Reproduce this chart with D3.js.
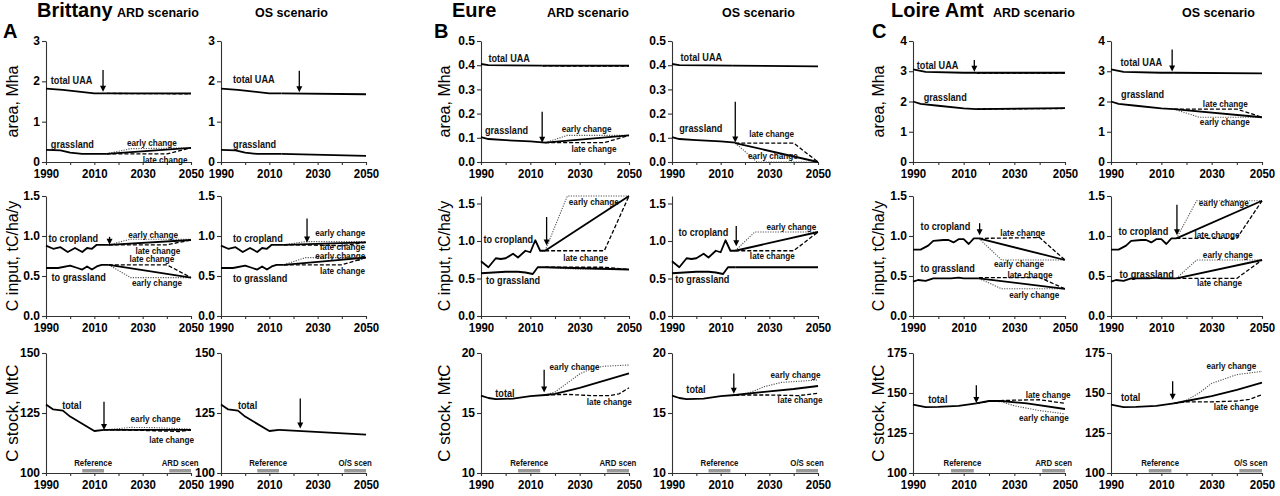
<!DOCTYPE html>
<html>
<head>
<meta charset="UTF-8">
<script src="https://d3js.org/d3.v7.min.js"></script>
<style>
  body { margin: 0; background: #fff; }
  svg text { font-family: "Liberation Sans", Arial, sans-serif; }
</style>
</head>
<body>
<div id="chart"></div>
<script>
// ---------- text ----------
var regionNames = ["Brittany", "Eure", "Loire Amt"];
var panelLetters = ["A", "B", "C"];
var scenarioNames = ["ARD scenario", "OS scenario"];
var scenBarLabels = ["ARD scen", "O/S scen"];
var yTitles = ["area, Mha", "C input, tC/ha/y", "C stock, MtC"];

// ---------- Brittany ----------
var britUaaHist = [[1990, 1.82], [1997, 1.79], [2010, 1.70], [2015, 1.70]];
var britGrassHist = [[1990, 0.30], [1996, 0.29], [2000, 0.23], [2005, 0.20], [2015, 0.20]];
var britCropInHist = [[1990, 0.88], [1993, 0.84], [1996, 0.86], [1999, 0.80], [2002, 0.85], [2005, 0.80], [2007, 0.85], [2009, 0.84], [2011, 0.89], [2016, 0.89]];
var britGrassInHist = [[1990, 0.60], [1995, 0.60], [2000, 0.63], [2003, 0.60], [2005, 0.58], [2007, 0.62], [2009, 0.58], [2011, 0.62], [2013, 0.64], [2016, 0.64]];
var britStockHist = [[1990, 128.5], [1993, 126.5], [1997, 126], [2000, 123.5], [2010, 117.5], [2014, 118]];

var britArdUaa = [[2015, 1.70], [2050, 1.70]];
var britArdUaaAlt = [[2015, 1.70], [2050, 1.69]];
var britArdGrass = [[2015, 0.20], [2050, 0.35]];
var britArdGrassEarly = [[2015, 0.20], [2025, 0.33], [2050, 0.35]];
var britArdGrassLate = [[2015, 0.20], [2040, 0.20], [2050, 0.35]];
var britArdCropIn = [[2016, 0.89], [2050, 0.95]];
var britArdCropInEarly = [[2016, 0.89], [2025, 0.96], [2050, 0.96]];
var britArdCropInLate = [[2016, 0.89], [2040, 0.89], [2050, 0.95]];
var britArdGrassIn = [[2016, 0.64], [2050, 0.48]];
var britArdGrassInEarly = [[2016, 0.64], [2025, 0.48], [2050, 0.48]];
var britArdGrassInLate = [[2016, 0.64], [2040, 0.64], [2050, 0.48]];
var britArdStock = [[2014, 118], [2050, 118]];
var britArdStockEarly = [[2014, 118], [2020, 118.5], [2025, 119], [2035, 118.9], [2050, 118.3]];
var britArdStockLate = [[2014, 118], [2025, 117.9], [2035, 117.6], [2045, 117.3], [2050, 117.9]];

var britOsUaa = [[2015, 1.70], [2050, 1.68]];
var britOsGrass = [[2015, 0.20], [2050, 0.15]];
var britOsCropIn = [[2016, 0.89], [2050, 0.92]];
var britOsCropInEarly = [[2016, 0.89], [2025, 0.93], [2050, 0.93]];
var britOsCropInLate = [[2016, 0.89], [2040, 0.88], [2050, 0.92]];
var britOsGrassIn = [[2016, 0.64], [2050, 0.73]];
var britOsGrassInEarly = [[2016, 0.64], [2025, 0.73], [2050, 0.73]];
var britOsGrassInLate = [[2016, 0.64], [2040, 0.64], [2050, 0.73]];
var britOsStock = [[2014, 118], [2050, 116]];

// ---------- Eure ----------
var eureUaaHist = [[1990, 0.405], [1993, 0.400], [2015, 0.398]];
var eureGrassHist = [[1990, 0.103], [1993, 0.095], [2000, 0.090], [2010, 0.085], [2016, 0.080]];
var eureCropInHist = [[1990, 0.73], [1993, 0.65], [1996, 0.77], [1998, 0.76], [2000, 0.77], [2003, 0.83], [2005, 0.78], [2008, 0.87], [2010, 0.85], [2012, 1.01], [2014, 0.87], [2016, 0.87]];
var eureGrassInHist = [[1990, 0.57], [1995, 0.58], [2000, 0.59], [2005, 0.59], [2008, 0.58], [2011, 0.56], [2013, 0.65], [2016, 0.65]];
var eureStockHist = [[1990, 16.45], [1993, 16.25], [1996, 16.15], [2003, 16.2], [2010, 16.4], [2016, 16.5]];

var eureArdUaa = [[2015, 0.398], [2050, 0.398]];
var eureArdUaaAlt = [[2015, 0.397], [2050, 0.396]];
var eureArdGrass = [[2016, 0.080], [2050, 0.110]];
var eureArdGrassEarly = [[2016, 0.080], [2025, 0.110], [2050, 0.110]];
var eureArdGrassLate = [[2016, 0.080], [2040, 0.080], [2050, 0.110]];
var eureArdCropIn = [[2016, 0.87], [2050, 1.60]];
var eureArdCropInEarly = [[2016, 0.87], [2025, 1.60], [2050, 1.60]];
var eureArdCropInLate = [[2016, 0.87], [2040, 0.87], [2050, 1.60]];
var eureArdGrassIn = [[2016, 0.65], [2050, 0.62]];
var eureArdGrassInEarly = [[2016, 0.65], [2025, 0.63], [2050, 0.62]];
var eureArdGrassInLate = [[2016, 0.65], [2040, 0.65], [2050, 0.62]];
var eureArdStock = [[2016, 16.5], [2020, 16.6], [2030, 17.1], [2040, 17.7], [2050, 18.3]];
var eureArdStockEarly = [[2016, 16.5], [2020, 16.75], [2025, 17.5], [2030, 18.25], [2035, 18.7], [2040, 18.9], [2050, 19.0]];
var eureArdStockLate = [[2016, 16.5], [2025, 16.55], [2035, 16.45], [2042, 16.45], [2046, 16.6], [2050, 17.1]];

var eureOsUaa = [[2015, 0.398], [2050, 0.395]];
var eureOsGrass = [[2016, 0.078], [2050, 0.0]];
var eureOsGrassEarly = [[2016, 0.078], [2025, 0.0], [2050, 0.0]];
var eureOsGrassLate = [[2016, 0.078], [2040, 0.078], [2050, 0.0]];
var eureOsCropIn = [[2016, 0.87], [2050, 1.12]];
var eureOsCropInEarly = [[2016, 0.87], [2024, 1.12], [2050, 1.12]];
var eureOsCropInLate = [[2016, 0.87], [2040, 0.87], [2050, 1.12]];
var eureOsGrassIn = [[2016, 0.65], [2050, 0.65]];
var eureOsStock = [[2016, 16.5], [2030, 16.8], [2040, 17.0], [2050, 17.25]];
var eureOsStockEarly = [[2016, 16.5], [2022, 16.7], [2028, 17.2], [2035, 17.55], [2050, 17.75]];
var eureOsStockLate = [[2016, 16.5], [2030, 16.5], [2042, 16.45], [2050, 16.65]];

// ---------- Loire Amt ----------
var loireUaaHist = [[1990, 3.06], [1995, 2.98], [2010, 2.95], [2015, 2.95]];
var loireGrassHist = [[1990, 2.00], [1993, 1.92], [2000, 1.86], [2010, 1.77], [2015, 1.75]];
var loireCropInHist = [[1990, 0.83], [1993, 0.83], [1996, 0.88], [1998, 0.94], [2002, 0.95], [2004, 0.95], [2006, 0.92], [2008, 0.96], [2010, 0.96], [2012, 0.90], [2014, 0.97], [2016, 0.97]];
var loireGrassInHist = [[1990, 0.43], [1992, 0.45], [1995, 0.44], [1998, 0.47], [2005, 0.47], [2008, 0.48], [2010, 0.47], [2016, 0.47]];
var loireStockHist = [[1990, 142.8], [1995, 141.2], [2000, 141.3], [2008, 142.0], [2015, 143.5]];

var loireArdUaa = [[2015, 2.95], [2050, 2.95]];
var loireArdUaaAlt = [[2015, 2.94], [2050, 2.94]];
var loireArdGrass = [[2015, 1.75], [2050, 1.78]];
var loireArdGrassAlt = [[2015, 1.75], [2050, 1.77]];
var loireArdCropIn = [[2016, 0.97], [2050, 0.70]];
var loireArdCropInEarly = [[2016, 0.97], [2025, 0.70], [2050, 0.70]];
var loireArdCropInLate = [[2016, 0.97], [2040, 0.98], [2050, 0.70]];
var loireArdGrassIn = [[2016, 0.47], [2050, 0.34]];
var loireArdGrassInEarly = [[2016, 0.47], [2025, 0.34], [2050, 0.34]];
var loireArdGrassInLate = [[2016, 0.48], [2040, 0.48], [2050, 0.34]];
var loireArdStock = [[2015, 143.5], [2020, 145], [2025, 145], [2035, 143.5], [2050, 140]];
var loireArdStockEarly = [[2015, 143.5], [2020, 145], [2025, 144.5], [2030, 142], [2040, 139], [2050, 137]];
var loireArdStockLate = [[2015, 143.5], [2020, 145], [2030, 145.5], [2040, 145.8], [2050, 143.5]];

var loireOsUaa = [[2015, 2.95], [2050, 2.93]];
var loireOsGrass = [[2015, 1.75], [2050, 1.48]];
var loireOsGrassEarly = [[2015, 1.75], [2025, 1.48], [2050, 1.48]];
var loireOsGrassLate = [[2015, 1.75], [2040, 1.75], [2050, 1.48]];
var loireOsCropIn = [[2016, 0.97], [2050, 1.44]];
var loireOsCropInEarly = [[2016, 0.97], [2024, 1.44], [2050, 1.44]];
var loireOsCropInLate = [[2016, 0.97], [2040, 0.97], [2050, 1.44]];
var loireOsGrassIn = [[2016, 0.47], [2050, 0.70]];
var loireOsGrassInEarly = [[2016, 0.47], [2024, 0.70], [2050, 0.70]];
var loireOsGrassInLate = [[2016, 0.47], [2040, 0.47], [2050, 0.70]];
var loireOsStock = [[2015, 143.5], [2020, 145], [2030, 148], [2040, 152], [2050, 156.5]];
var loireOsStockEarly = [[2015, 143.5], [2020, 145.5], [2025, 150], [2030, 156], [2040, 161.5], [2050, 163.5]];
var loireOsStockLate = [[2015, 143.5], [2020, 144.5], [2030, 144.5], [2040, 145], [2045, 146], [2050, 149]];

// ---------- layout ----------
var width = 1280, height = 496;
var panelLefts = [46, 221, 481, 672, 913, 1111];
var panelRights = [191, 366, 629, 818, 1065, 1262];
var rowTops = [41, 196, 353];
var rowBottoms = [162, 316, 473];
var regionTitleX = [37, 452, 891];
var letterX = [3, 434, 872];
var scenTitleX = [[117, 255], [547, 722], [993, 1182]];
var yTitleX = [17.5, 450, 884];
var squash = 0.87;   // the figure's lettering is a little narrow

var f0 = d3.format("d"), f1 = d3.format(".1f");

// one entry per panel: col, row, y domain, ticks, lines, labels, arrow
var panels = [
  { col: 0, row: 0, dom: [0, 3], ticks: [0, 1, 2, 3], fmt: f0,
    lines: [[britUaaHist, "s"], [britArdUaaAlt, "e"], [britArdUaaAlt, "l"], [britArdUaa, "s"],
            [britGrassHist, "s"], [britArdGrassEarly, "e"], [britArdGrassLate, "l"], [britArdGrass, "s"]],
    labels: [["total UAA", 1992, 1.93, "n"], ["grassland", 1992, 0.35, "n"], ["early change", 2023.5, 0.40, "c"], ["late change", 2030, -0.03, "c"]],
    arrow: [2013.6, 2.28, 1.74] },
  { col: 1, row: 0, dom: [0, 3], ticks: [0, 1, 2, 3], fmt: f0,
    lines: [[britUaaHist, "s"], [britOsUaa, "s"], [britGrassHist, "s"], [britOsGrass, "s"]],
    labels: [["total UAA", 1995, 1.96, "n"], ["grassland", 1995, 0.35, "n"]],
    arrow: [2022.4, 2.26, 1.73] },
  { col: 0, row: 1, dom: [0, 1.5], ticks: [0, 0.5, 1, 1.5], fmt: f1,
    lines: [[britCropInHist, "s"], [britArdCropInEarly, "e"], [britArdCropInLate, "l"], [britArdCropIn, "s"],
            [britGrassInHist, "s"], [britArdGrassInEarly, "e"], [britArdGrassInLate, "l"], [britArdGrassIn, "s"]],
    labels: [["to cropland", 1991, 0.92, "n"], ["early change", 2024, 0.97, "c"], ["late change", 2027, 0.78, "c"],
             ["late change", 2024.5, 0.67, "c"], ["to grassland", 1992.3, 0.44, "n"], ["early change", 2025.6, 0.375, "c"]],
    arrow: [2016.3, 0.99, 0.89] },
  { col: 1, row: 1, dom: [0, 1.5], ticks: [0, 0.5, 1, 1.5], fmt: f1,
    lines: [[britCropInHist, "s"], [britOsCropInEarly, "e"], [britOsCropInLate, "l"], [britOsCropIn, "s"],
            [britGrassInHist, "s"], [britOsGrassInEarly, "e"], [britOsGrassInLate, "l"], [britOsGrassIn, "s"]],
    labels: [["to cropland", 1995, 0.92, "n"], ["early change", 2029, 1.0, "c"], ["late change", 2031, 0.825, "c"],
             ["early change", 2029, 0.71, "c"], ["late change", 2031, 0.53, "c"], ["to grassland", 1995, 0.42, "n"]],
    arrow: [2025.6, 1.22, 0.92] },
  { col: 0, row: 2, dom: [100, 150], ticks: [100, 125, 150], fmt: f0,
    lines: [[britStockHist, "s"], [britArdStockEarly, "e"], [britArdStockLate, "l"], [britArdStock, "s"]],
    labels: [["total", 1996.7, 126.5, "n"], ["early change", 2025, 121.4, "c"], ["late change", 2032.7, 112.6, "c"]],
    arrow: [2014, 129.7, 117.9], scen: 0 },
  { col: 1, row: 2, dom: [100, 150], ticks: [100, 125, 150], fmt: f0,
    lines: [[britStockHist, "s"], [britOsStock, "s"]],
    labels: [["total", 1997, 126.5, "n"]],
    arrow: [2022.8, 131, 118.5], scen: 1 },

  { col: 2, row: 0, dom: [0, 0.5], ticks: [0, 0.1, 0.2, 0.3, 0.4, 0.5], fmt: f1,
    lines: [[eureUaaHist, "s"], [eureArdUaaAlt, "e"], [eureArdUaaAlt, "l"], [eureArdUaa, "s"],
            [eureGrassHist, "s"], [eureArdGrassEarly, "e"], [eureArdGrassLate, "l"], [eureArdGrass, "s"]],
    labels: [["total UAA", 1993, 0.414, "n"], ["grassland", 1991.6, 0.116, "n"], ["early change", 2022.7, 0.125, "c"], ["late change", 2026.7, 0.043, "c"]],
    arrow: [2014.8, 0.208, 0.08] },
  { col: 3, row: 0, dom: [0, 0.5], ticks: [0, 0.1, 0.2, 0.3, 0.4, 0.5], fmt: f1,
    lines: [[eureUaaHist, "s"], [eureOsUaa, "s"],
            [eureGrassHist, "s"], [eureOsGrassEarly, "e"], [eureOsGrassLate, "l"], [eureOsGrass, "s"]],
    labels: [["total UAA", 1993.5, 0.416, "n"], ["grassland", 1993, 0.125, "n"], ["late change", 2021.7, 0.102, "c"], ["early change", 2021.2, 0.011, "c"]],
    arrow: [2016, 0.249, 0.081] },
  { col: 2, row: 1, dom: [0, 1.6], ticks: [0, 0.5, 1, 1.5], fmt: f1,
    lines: [[eureCropInHist, "s"], [eureArdCropInEarly, "e"], [eureArdCropInLate, "l"], [eureArdCropIn, "s"],
            [eureGrassInHist, "s"], [eureArdGrassInEarly, "e"], [eureArdGrassInLate, "l"], [eureArdGrassIn, "s"]],
    labels: [["to cropland", 1991, 0.98, "n"], ["early change", 2025.6, 1.48, "c"], ["late change", 2023.3, 0.735, "c"], ["to grassland", 1992, 0.43, "n"]],
    arrow: [2016.6, 1.32, 0.94] },
  { col: 3, row: 1, dom: [0, 1.6], ticks: [0, 0.5, 1, 1.5], fmt: f1,
    lines: [[eureCropInHist, "s"], [eureOsCropInEarly, "e"], [eureOsCropInLate, "l"], [eureOsCropIn, "s"],
            [eureGrassInHist, "s"], [eureOsGrassIn, "s"]],
    labels: [["to cropland", 1992.7, 1.07, "n"], ["early change", 2028.8, 1.15, "c"], ["late change", 2022, 0.76, "c"], ["to grassland", 1991.3, 0.44, "n"]],
    arrow: [2016.4, 1.2, 0.93] },
  { col: 2, row: 2, dom: [10, 20], ticks: [10, 15, 20], fmt: f0,
    lines: [[eureStockHist, "s"], [eureArdStockEarly, "e"], [eureArdStockLate, "l"], [eureArdStock, "s"]],
    labels: [["total", 1995.8, 16.35, "n"], ["early change", 2017.8, 18.6, "c"], ["late change", 2032.9, 15.7, "c"]],
    arrow: [2015.6, 18.6, 16.7], scen: 0 },
  { col: 3, row: 2, dom: [10, 20], ticks: [10, 15, 20], fmt: f0,
    lines: [[eureStockHist, "s"], [eureOsStockEarly, "e"], [eureOsStockLate, "l"], [eureOsStock, "s"]],
    labels: [["total", 1995.9, 16.67, "n"], ["early change", 2030.5, 17.9, "c"], ["late change", 2033.4, 15.8, "c"]],
    arrow: [2015.4, 18.3, 16.6], scen: 1 },

  { col: 4, row: 0, dom: [0, 4], ticks: [0, 1, 2, 3, 4], fmt: f0,
    lines: [[loireUaaHist, "s"], [loireArdUaaAlt, "e"], [loireArdUaaAlt, "l"], [loireArdUaa, "s"],
            [loireGrassHist, "s"], [loireArdGrassAlt, "e"], [loireArdGrassAlt, "l"], [loireArdGrass, "s"]],
    labels: [["total UAA", 1991.5, 3.09, "n"], ["grassland", 1994.2, 2.01, "n"]],
    arrow: [2014.2, 3.37, 2.98] },
  { col: 5, row: 0, dom: [0, 4], ticks: [0, 1, 2, 3, 4], fmt: f0,
    lines: [[loireUaaHist, "s"], [loireOsUaa, "s"],
            [loireGrassHist, "s"], [loireOsGrassEarly, "e"], [loireOsGrassLate, "l"], [loireOsGrass, "s"]],
    labels: [["total UAA", 1993.8, 3.16, "n"], ["grassland", 1994, 2.10, "n"], ["late change", 2026.5, 1.82, "c"], ["early change", 2025.3, 1.23, "c"]],
    arrow: [2014.3, 3.72, 2.99] },
  { col: 4, row: 1, dom: [0, 1.5], ticks: [0, 0.5, 1, 1.5], fmt: f1,
    lines: [[loireCropInHist, "s"], [loireArdCropInEarly, "e"], [loireArdCropInLate, "l"], [loireArdCropIn, "s"],
            [loireGrassInHist, "s"], [loireArdGrassInEarly, "e"], [loireArdGrassInLate, "l"], [loireArdGrassIn, "s"]],
    labels: [["to cropland", 1993, 1.075, "n"], ["late change", 2024.4, 1.0, "c"], ["early change", 2022, 0.61, "c"],
             ["to grassland", 1993, 0.55, "n"], ["late change", 2027.3, 0.48, "c"], ["early change", 2028, 0.22, "c"]],
    arrow: [2016.3, 1.16, 1.01] },
  { col: 5, row: 1, dom: [0, 1.5], ticks: [0, 0.5, 1, 1.5], fmt: f1,
    lines: [[loireCropInHist, "s"], [loireOsCropInEarly, "e"], [loireOsCropInLate, "l"], [loireOsCropIn, "s"],
            [loireGrassInHist, "s"], [loireOsGrassInEarly, "e"], [loireOsGrassInLate, "l"], [loireOsGrassIn, "s"]],
    labels: [["to cropland", 1993, 1.01, "n"], ["early change", 2024.9, 1.37, "c"], ["late change", 2023.2, 0.98, "c"],
             ["early change", 2026.5, 0.73, "c"], ["to grassland", 1993.4, 0.48, "n"], ["late change", 2024.2, 0.37, "c"]],
    arrow: [2016.2, 1.39, 1.01] },
  { col: 4, row: 2, dom: [100, 175], ticks: [100, 125, 150, 175], fmt: f0,
    lines: [[loireStockHist, "s"], [loireArdStockEarly, "e"], [loireArdStockLate, "l"], [loireArdStock, "s"]],
    labels: [["total", 1996, 143.75, "n"], ["late change", 2034.5, 146.9, "c"], ["early change", 2031.8, 132.3, "c"]],
    arrow: [2015, 154.8, 143.75], scen: 0 },
  { col: 5, row: 2, dom: [100, 175], ticks: [100, 125, 150, 175], fmt: f0,
    lines: [[loireStockHist, "s"], [loireOsStockEarly, "e"], [loireOsStockLate, "l"], [loireOsStock, "s"]],
    labels: [["total", 1994, 144.8, "n"], ["early change", 2027.9, 165, "c"], ["late change", 2030.8, 139.6, "c"]],
    arrow: [2014.5, 157.3, 145.8], scen: 1 }
];

var lineStyles = {
  s: { stroke: "#000", w: 1.8, dash: null },
  e: { stroke: "#555", w: 1.1, dash: "1.2,1.3" },
  l: { stroke: "#000", w: 1.3, dash: "4,2" }
};

var svg = d3.select("#chart").append("svg")
    .attr("width", width)
    .attr("height", height);
svg.append("rect").attr("width", width).attr("height", height).attr("fill", "#fff");

// narrow text placed at (x, y)
function narrowText(g, x, y, size, str, anchor) {
  return g.append("text")
    .attr("transform", "translate(" + x + "," + y + ") scale(" + squash + ",1)")
    .attr("text-anchor", anchor || "start")
    .attr("font-size", size)
    .attr("font-weight", "bold")
    .attr("fill", "#111")
    .text(str);
}

panels.forEach(function(p) {
  var left = panelLefts[p.col], right = panelRights[p.col];
  var top = rowTops[p.row], bottom = rowBottoms[p.row];
  var x = d3.scaleLinear().domain([1990, 2050]).range([left, right]);
  var y = d3.scaleLinear().domain(p.dom).range([bottom, top]);
  var g = svg.append("g");

  var yaxis = d3.axisLeft(y).tickValues(p.ticks).tickFormat(p.fmt)
      .tickSize(4).tickSizeOuter(0).tickPadding(2);
  var xaxis = d3.axisBottom(x).tickValues(d3.range(1990, 2051, 10))
      .tickFormat(function(d) { return (d - 1990) % 20 === 0 ? d : ""; })
      .tickSize(3).tickSizeOuter(0).tickPadding(4);

  var gy = g.append("g").attr("transform", "translate(" + left + ",0)").call(yaxis);
  var gx = g.append("g").attr("transform", "translate(0," + bottom + ")").call(xaxis);
  [gx, gy].forEach(function(a) {
    a.attr("font-family", "Liberation Sans, Arial, sans-serif");
    a.selectAll("path, line").attr("stroke", "#333").attr("stroke-width", 1.1);
    a.selectAll("text").attr("fill", "#000").attr("font-weight", "bold");
  });
  gy.selectAll("text").attr("font-size", 12).attr("dy", "0.3em");
  gx.selectAll("text").attr("font-size", 13).attr("transform", "scale(0.88,1)");

  // lines: dotted / dashed under the solid ones
  var lineGenerator = d3.line().x(function(d) { return x(d[0]); }).y(function(d) { return y(d[1]); });
  var order = { e: 0, l: 1, s: 2 };
  p.lines.slice().sort(function(a, b) { return order[a[1]] - order[b[1]]; }).forEach(function(ln) {
    var st = lineStyles[ln[1]];
    g.append("path")
      .datum(ln[0])
      .attr("d", lineGenerator)
      .attr("fill", "none")
      .attr("stroke", st.stroke)
      .attr("stroke-width", st.w)
      .attr("stroke-dasharray", st.dash)
      .attr("stroke-linejoin", "round");
  });

  // arrow at the start of the scenario
  var ax = x(p.arrow[0]), ay1 = y(p.arrow[1]), ay2 = y(p.arrow[2]);
  g.append("line")
    .attr("x1", ax).attr("x2", ax).attr("y1", ay1).attr("y2", ay2 - 5)
    .attr("stroke", "#000").attr("stroke-width", 1.3);
  g.append("path")
    .attr("d", "M" + (ax - 3) + "," + (ay2 - 6) + "L" + (ax + 3) + "," + (ay2 - 6) + "L" + ax + "," + ay2 + "Z")
    .attr("fill", "#000");

  // annotations
  p.labels.forEach(function(lb) {
    narrowText(g, x(lb[1]), y(lb[2]), lb[3] === "n" ? 10.5 : 9.4, lb[0]);
  });

  // reference / scenario period bars
  if (p.scen !== undefined) {
    var bars = [["Reference", 2005, 2014], [scenBarLabels[p.scen], 2041, 2050]];
    bars.forEach(function(b) {
      g.append("rect")
        .attr("x", x(b[1])).attr("width", x(b[2]) - x(b[1]))
        .attr("y", bottom - 4).attr("height", 3.5)
        .attr("fill", "#999");
      narrowText(g, (x(b[1]) + x(b[2])) / 2, bottom - 7, 9, b[0], "middle");
    });
  }
});

// titles
regionNames.forEach(function(name, i) {
  svg.append("text").attr("x", regionTitleX[i]).attr("y", 17)
    .attr("font-size", 20).attr("font-weight", "bold").text(name);
  svg.append("text").attr("x", letterX[i]).attr("y", 38)
    .attr("font-size", 20).attr("font-weight", "bold").text(panelLetters[i]);
  scenarioNames.forEach(function(s, j) {
    svg.append("text").attr("x", scenTitleX[i][j]).attr("y", 17)
      .attr("font-size", 12.5).attr("font-weight", "bold").text(s);
  });
  yTitles.forEach(function(t, r) {
    var cy = (rowTops[r] + rowBottoms[r]) / 2;
    svg.append("text")
      .attr("transform", "translate(" + yTitleX[i] + "," + cy + ") rotate(-90)")
      .attr("text-anchor", "middle")
      .attr("font-size", r === 2 ? 17 : 16)
      .text(t);
  });
});
</script>
</body>
</html>
